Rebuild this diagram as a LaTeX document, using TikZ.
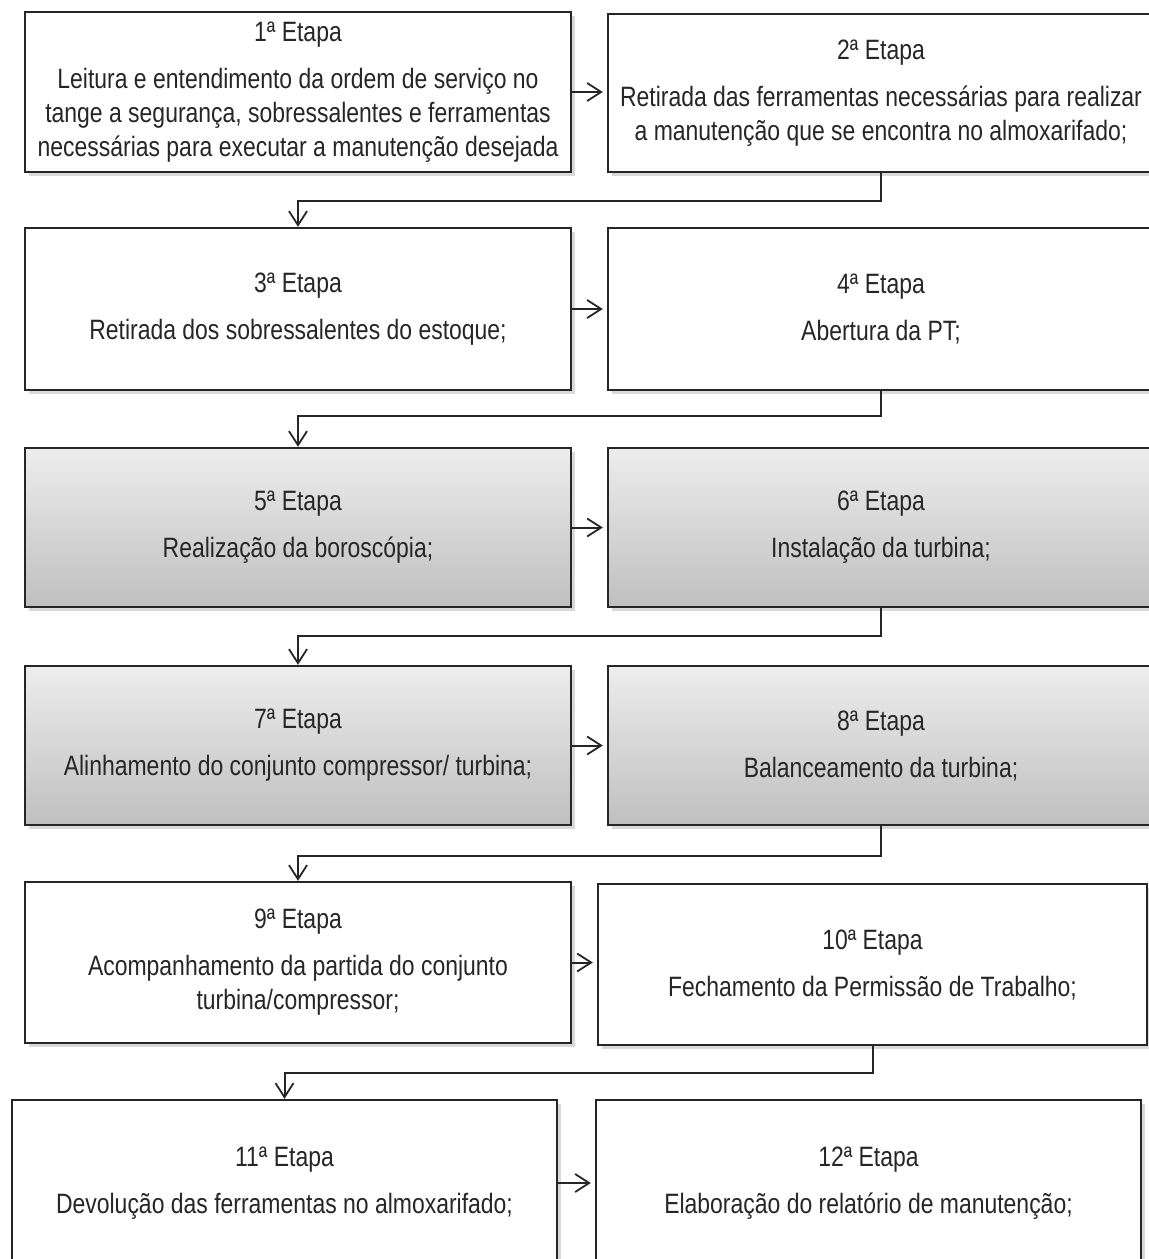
\documentclass[tikz,border=0pt]{standalone}
\usepackage{fontspec}
\setmainfont[FakeStretch=0.82]{Liberation Sans}
\usetikzlibrary{shadows,arrows.meta}
\begin{document}
\begin{tikzpicture}[x=0.5pt,y=-0.5pt,
  stepbox/.style={draw=black!85, line width=1.2pt, fill=white, minimum width=273pt,
    minimum height=80pt, align=center, font=\fontsize{14}{17}\selectfont, text=black!85,
    inner sep=0pt, drop shadow={opacity=0.3, shadow xshift=2pt, shadow yshift=-2pt}},
  graybox/.style={stepbox, top color=black!7, bottom color=black!25},
  flow/.style={draw=black!85, line width=1pt, -{Straight Barb[length=7pt,width=9pt,line width=0.9pt]}},
]
\useasboundingbox (0,0) rectangle (1149,1259);

\node[stepbox] (b1) at (298,92) {1ª Etapa\\[6.5pt]Leitura e entendimento da ordem de serviço no\\tange a segurança, sobressalentes e ferramentas\\necessárias para executar a manutenção desejada};
\node[stepbox, minimum height=79pt] (b2) at (881,93) {2ª Etapa\\[6.5pt]Retirada das ferramentas necessárias para realizar\\a manutenção que se encontra no almoxarifado;};

\node[stepbox, minimum height=81pt] (b3) at (298,309) {3ª Etapa\\[6.5pt]Retirada dos sobressalentes do estoque;};
\node[stepbox, minimum height=81pt] (b4) at (881,309) {4ª Etapa\\[6.5pt]Abertura da PT;};

\node[graybox, minimum height=79.5pt] (b5) at (298,527.5) {5ª Etapa\\[6.5pt]Realização da boroscópia;};
\node[graybox, minimum height=79.5pt] (b6) at (881,527.5) {6ª Etapa\\[6.5pt]Instalação da turbina;};

\node[graybox, minimum height=79.5pt] (b7) at (298,745.5) {7ª Etapa\\[6.5pt]Alinhamento do conjunto compressor/ turbina;};
\node[graybox, minimum height=79.5pt] (b8) at (881,745.5) {8ª Etapa\\[6.5pt]Balanceamento da turbina;};

\node[stepbox, minimum height=80.5pt] (b9) at (298,962.5) {9ª Etapa\\[6.5pt]Acompanhamento da partida do conjunto\\turbina/compressor;};
\node[stepbox, minimum height=80.5pt, minimum width=274.5pt] (b10) at (872.5,964.5) {10ª Etapa\\[6.5pt]Fechamento da Permissão de Trabalho;};

\node[stepbox, minimum height=83pt, minimum width=272.5pt] (b11) at (284.5,1183) {11ª Etapa\\[6.5pt]Devolução das ferramentas no almoxarifado;};
\node[stepbox, minimum height=83pt, minimum width=272.5pt] (b12) at (868.5,1183) {12ª Etapa\\[6.5pt]Elaboração do relatório de manutenção;};

% horizontal arrows
\draw[flow, shorten >=2pt] (b1.east) -- (b1.east -| b2.west);
\draw[flow, shorten >=2pt] (b3.east) -- (b3.east -| b4.west);
\draw[flow, shorten >=2pt] (b5.east) -- (b5.east -| b6.west);
\draw[flow, shorten >=2pt] (b7.east) -- (b7.east -| b8.west);
\draw[flow, shorten >=2pt] (b9.east) -- (b9.east -| b10.west);
\draw[flow, shorten >=2pt] (b11.east) -- (b11.east -| b12.west);

% return connectors
\draw[flow] (b2.south) -- ++(0,28) -| (b3.north);
\draw[flow] (b4.south) -- ++(0,25) -| (b5.north);
\draw[flow] (b6.south) -- ++(0,28) -| (b7.north);
\draw[flow] (b8.south) -- ++(0,30) -| (b9.north);
\draw[flow] (b10.south) -- ++(0,27) -| (b11.north);
\end{tikzpicture}
\end{document}
